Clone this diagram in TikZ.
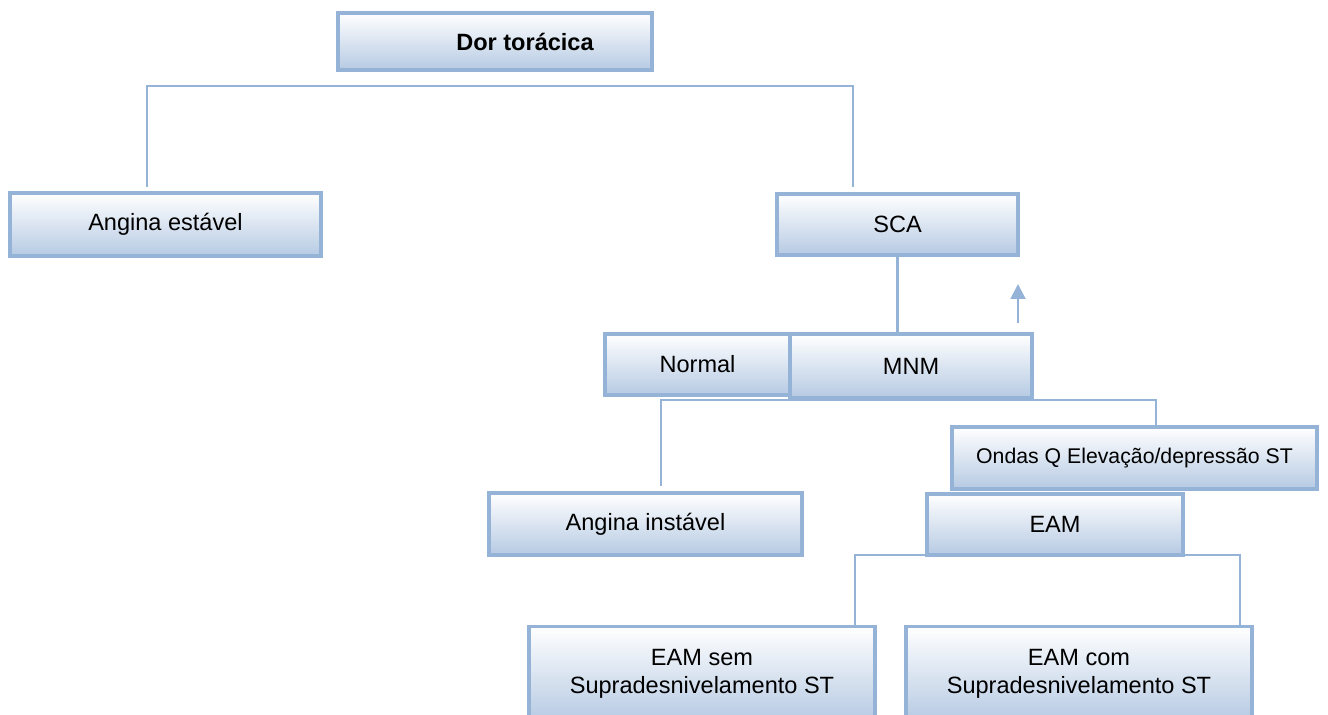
\documentclass[tikz,border=0pt]{standalone}
\usepackage{fontspec}
\setmainfont{Liberation Sans}
\usetikzlibrary{arrows.meta}

\definecolor{boxline}{RGB}{149,179,215}
\definecolor{boxfill}{RGB}{182,202,227}

\begin{document}
\begin{tikzpicture}[x=0.02cm,y=-0.02cm]

\tikzset{box/.style = {shape=rectangle,draw=boxline,line width=1.8pt,top color=white,bottom color=boxfill,inner sep=0pt,font=\fontsize{13.4}{16}\selectfont}}
\tikzset{link/.style = {draw=boxline,line width=1.2pt}}
\tikzset{arc/.style = {link,-{Triangle[length=8.5pt,width=8.5pt]},fill=boxline}}

\useasboundingbox (0,0) rectangle (1328,714);

% boxes
\node[box,minimum width=6.28cm,minimum height=1.14cm,font=\fontsize{13.4}{16}\selectfont\bfseries] (dor) at (495,41.5) {\hspace*{1.2cm}Dor torácica};
\node[box,minimum width=6.22cm,minimum height=1.26cm] (estavel) at (165.5,224.5) {Angina estável};
\node[box,minimum width=4.82cm,minimum height=1.22cm] (sca) at (897.5,224.5) {SCA};
\node[box,minimum width=3.7cm,minimum height=1.22cm] (normal) at (697.5,364.5) {Normal};
\node[box,minimum width=4.84cm,minimum height=1.28cm] (mnm) at (911,366) {MNM};
\node[box,minimum width=7.3cm,minimum height=1.24cm,font=\fontsize{12.1}{14}\selectfont] (ondas) at (1134.5,458) {Ondas Q Elevação/depressão ST};
\node[box,minimum width=6.26cm,minimum height=1.24cm] (instavel) at (645.5,524) {Angina instável};
\node[box,minimum width=5.12cm,minimum height=1.22cm] (eam) at (1055,524.5) {EAM};
\node[box,minimum width=6.92cm,minimum height=1.9cm,align=center] (eamsem) at (702,674) {EAM sem\\Supradesnivelamento ST};
\node[box,minimum width=6.92cm,minimum height=1.9cm,align=center] (eamcom) at (1079,674) {EAM com\\Supradesnivelamento ST};

% free ends
\coordinate (t1) at (147,86);
\coordinate (t2) at (853,86);
\coordinate (m1) at (661,400);
\coordinate (m2) at (1156,400);
\coordinate (e1) at (855,555);
\coordinate (e2) at (1240,555);
\coordinate (up) at (1018,323);

% links
\draw[link] (t1 |- 0,187) -- (t1) -- (t2) -- (t2 |- 0,187);
\draw[link] (sca.south) -- (sca.south |- mnm.north);
\draw[link] (m1 |- 0,486) -- (m1) -- (m2) -- (m2 |- ondas.north);
\draw[link] (e1 |- eamsem.north) -- (e1) -- (e2) -- (e2 |- eamcom.north);

% arrow
\draw[arc] (up) -- ++(0,-39);

\end{tikzpicture}
\end{document}
